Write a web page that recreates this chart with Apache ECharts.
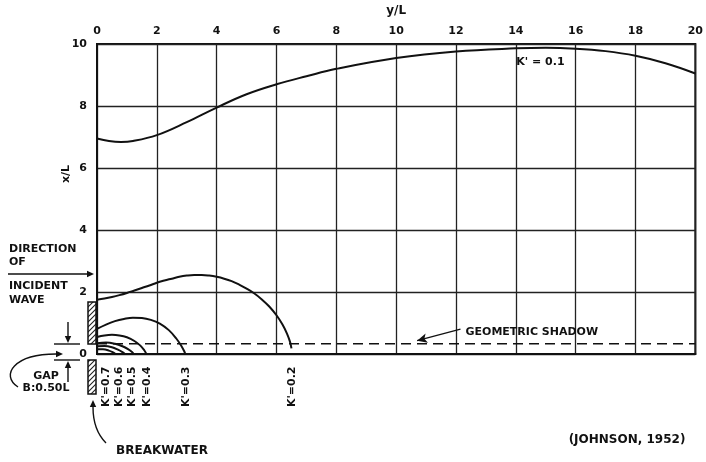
<!DOCTYPE html>
<html>
<head>
<meta charset="utf-8">
<script src="https://cdn.jsdelivr.net/npm/echarts@6/dist/echarts.min.js"></script>
<style>
html, body { margin: 0; padding: 0; background: #fff; }
#chart { width: 706px; height: 462px; }
</style>
</head>
<body>
<div id="chart"></div>
<script>
// axis ranges (y/L across the top, x/L up the side)
var yLRange = [0, 20];
var xLRange = [0, 10];
var tickStep = 2;

// diffraction coefficient curves K' [y/L, x/L]
var k01 = [[0, 6.95], [0.4, 6.87], [0.8, 6.84], [1.2, 6.87], [2, 7.06], [3, 7.48], [4, 7.95], [5, 8.38],
           [6, 8.7], [7, 8.96], [8, 9.2], [10, 9.55], [12, 9.76], [14, 9.86], [15, 9.88], [16, 9.85],
           [17, 9.77], [18, 9.62], [19, 9.38], [20, 9.05]];
var k02 = [[0, 1.75], [0.25, 1.79], [0.5, 1.84], [0.75, 1.9], [1, 1.97], [1.25, 2.05], [1.5, 2.13],
           [1.75, 2.21], [2, 2.3], [2.25, 2.37], [2.5, 2.43], [2.75, 2.49], [3, 2.53], [3.25, 2.55],
           [3.5, 2.55], [3.75, 2.53], [4, 2.49], [4.25, 2.43], [4.5, 2.35], [4.75, 2.24], [5, 2.11],
           [5.25, 1.96], [5.5, 1.77], [5.75, 1.54], [6, 1.25], [6.2, 0.95], [6.35, 0.66], [6.45, 0.4],
           [6.5, 0.18]];
var k03 = [[0, 0.81], [0.3, 0.95], [0.6, 1.06], [0.9, 1.13], [1.2, 1.17], [1.5, 1.16], [1.8, 1.1],
           [2.1, 0.98], [2.4, 0.77], [2.65, 0.5], [2.82, 0.26], [2.92, 0.08], [2.95, 0]];
var k04 = [[0, 0.55], [0.25, 0.6], [0.5, 0.62], [0.75, 0.6], [1, 0.54], [1.25, 0.42], [1.45, 0.27],
           [1.58, 0.12], [1.65, 0]];
var k05 = [[0, 0.35], [0.3, 0.37], [0.6, 0.33], [0.85, 0.25], [1.05, 0.15], [1.18, 0.06], [1.23, 0]];
var k06 = [[0, 0.25], [0.25, 0.26], [0.5, 0.22], [0.7, 0.14], [0.85, 0.06], [0.93, 0]];
var k07 = [[0, 0.15], [0.2, 0.15], [0.4, 0.11], [0.54, 0.05], [0.62, 0]];

// geometric shadow line
var shadowLevel = 0.33;

// K' labels under the axis
var kLabelX = [6.54, 2.98, 1.68, 1.19, 0.77, 0.33];
var kLabelText = ["K'=0.2", "K'=0.3", "K'=0.4", "K'=0.5", "K'=0.6", "K'=0.7"];

var FONT = '"DejaVu Sans", "Liberation Sans", sans-serif';
var INK = '#111';

// hatch pattern for the breakwater
var hatch = document.createElement('canvas');
hatch.width = 5; hatch.height = 5;
var hc = hatch.getContext('2d');
hc.strokeStyle = '#222';
hc.lineWidth = 1.1;
hc.beginPath();
hc.moveTo(0, 5); hc.lineTo(5, 0);
hc.moveTo(-1, 1); hc.lineTo(1, -1);
hc.moveTo(4, 6); hc.lineTo(6, 4);
hc.stroke();

function arrowHead(x, y, ang) {
    var len = 7, w = 3.2;
    var bx = x - len * Math.cos(ang), by = y - len * Math.sin(ang);
    var px = -Math.sin(ang) * w, py = Math.cos(ang) * w;
    return { type: 'polygon', shape: { points: [[x, y], [bx + px, by + py], [bx - px, by - py]] }, style: { fill: INK } };
}
function txt(x, y, s, align, size) {
    return { type: 'text', x: x, y: y, style: { text: s, fill: INK, font: 'bold ' + (size || 11) + 'px ' + FONT,
             textAlign: align || 'left', textVerticalAlign: 'middle' } };
}
function seg(x1, y1, x2, y2) {
    return { type: 'line', shape: { x1: x1, y1: y1, x2: x2, y2: y2 }, style: { stroke: INK, lineWidth: 1.4 } };
}

function curve(name, data) {
    return {
        name: name, type: 'line', data: data, smooth: 0.4, showSymbol: false, silent: true,
        lineStyle: { color: INK, width: 2 }
    };
}

var chart = echarts.init(document.getElementById('chart'));
var option = {
    animation: false,
    textStyle: { fontFamily: FONT },
    grid: { left: 97, right: 7, top: 43, bottom: 108, show: true, borderColor: INK, borderWidth: 2 },
    xAxis: {
        type: 'value', position: 'top', min: yLRange[0], max: yLRange[1], interval: tickStep,
        name: 'y/L', nameLocation: 'middle', nameGap: 27,
        nameTextStyle: { color: INK, fontSize: 12, fontWeight: 'bold' },
        axisLine: { lineStyle: { color: INK, width: 2 } },
        axisTick: { show: false },
        axisLabel: { margin: 7, color: INK, fontSize: 11, fontWeight: 'bold' },
        splitLine: { lineStyle: { color: '#222', width: 1.3 } }
    },
    yAxis: {
        type: 'value', min: xLRange[0], max: xLRange[1], interval: tickStep,
        name: 'x/L', nameLocation: 'middle', nameRotate: 90, nameGap: 25, nameMoveOverlap: false,
        nameTextStyle: { color: INK, fontSize: 11, fontWeight: 'bold', padding: [0, 0, 0, 50] },
        axisLine: { lineStyle: { color: INK, width: 2 } },
        axisTick: { show: false },
        axisLabel: { margin: 10, color: INK, fontSize: 11, fontWeight: 'bold' },
        splitLine: { lineStyle: { color: '#222', width: 1.3 } }
    },
    series: [
        curve("K'=0.1", k01),
        curve("K'=0.2", k02),
        curve("K'=0.3", k03),
        curve("K'=0.4", k04),
        curve("K'=0.5", k05),
        curve("K'=0.6", k06),
        curve("K'=0.7", k07),
        {
            name: 'shadow', type: 'line', silent: true, showSymbol: false,
            data: [[yLRange[0], shadowLevel], [yLRange[1], shadowLevel]],
            lineStyle: { color: INK, width: 1.4, type: [10, 6] },
            markLine: {
                silent: true, symbol: ['none', 'arrow'], symbolSize: [7, 10],
                lineStyle: { type: 'solid', color: INK, width: 1.3 },
                label: { show: false },
                data: [[{ coord: [12.15, 0.8] }, { coord: [10.7, 0.43] }]]
            }
        },
        {
            name: 'notes', type: 'scatter', silent: true, symbolSize: 1,
            itemStyle: { color: 'rgba(0,0,0,0)', opacity: 1 },
            data: [
                { value: [14, 9.43], label: { formatter: "K' = 0.1" } },
                { value: [12.3, 0.72], label: { formatter: 'GEOMETRIC SHADOW' } }
            ],
            label: { show: true, position: 'right', distance: 0, color: INK, fontSize: 11, fontWeight: 'bold' }
        },
        {
            name: 'kLabels', type: 'scatter', silent: true, clip: false, symbolSize: 1,
            itemStyle: { color: 'rgba(0,0,0,0)', opacity: 1 },
            data: kLabelX.map(function (x, i) {
                return { value: [x, 0], label: { formatter: kLabelText[i] } };
            }),
            label: { show: true, position: [0, 13], rotate: 90, align: 'right', verticalAlign: 'middle',
                     color: INK, fontSize: 11, fontWeight: 'bold' }
        }
    ],
    graphic: [
        txt(9, 249, 'DIRECTION'),
        txt(9, 262, 'OF'),
        seg(8, 274, 88, 274), arrowHead(94, 274, 0),
        txt(9, 286, 'INCIDENT'),
        txt(9, 300, 'WAVE'),
        // gap marks
        seg(68, 322, 68, 337), arrowHead(68, 343, Math.PI / 2),
        seg(54, 344, 80, 344),
        seg(54, 360, 80, 360),
        seg(68, 382, 68, 367), arrowHead(68, 361, -Math.PI / 2),
        txt(46, 376, 'GAP', 'center'),
        txt(46, 388, 'B:0.50L', 'center'),
        { type: 'bezierCurve', shape: { x1: 18, y1: 387, cpx1: 0, cpy1: 375, cpx2: 14, cpy2: 354, x2: 56, y2: 354 },
          style: { stroke: INK, lineWidth: 1.4, fill: null } },
        arrowHead(63, 354, 0),
        // breakwater
        { type: 'rect', shape: { x: 88, y: 302, width: 8, height: 42 },
          style: { fill: { image: hatch, repeat: 'repeat' }, stroke: INK, lineWidth: 1.5 } },
        { type: 'rect', shape: { x: 88, y: 360, width: 8, height: 34 },
          style: { fill: { image: hatch, repeat: 'repeat' }, stroke: INK, lineWidth: 1.5 } },
        txt(162, 451, 'BREAKWATER', 'center', 12),
        { type: 'bezierCurve', shape: { x1: 106, y1: 443, cpx1: 95, cpy1: 432, cpx2: 93, cpy2: 418, x2: 93, y2: 407 },
          style: { stroke: INK, lineWidth: 1.4, fill: null } },
        arrowHead(93, 400, -Math.PI / 2),
        txt(627, 440, '(JOHNSON, 1952)', 'center', 12)
    ]
};
chart.setOption(option);
</script>
</body>
</html>
